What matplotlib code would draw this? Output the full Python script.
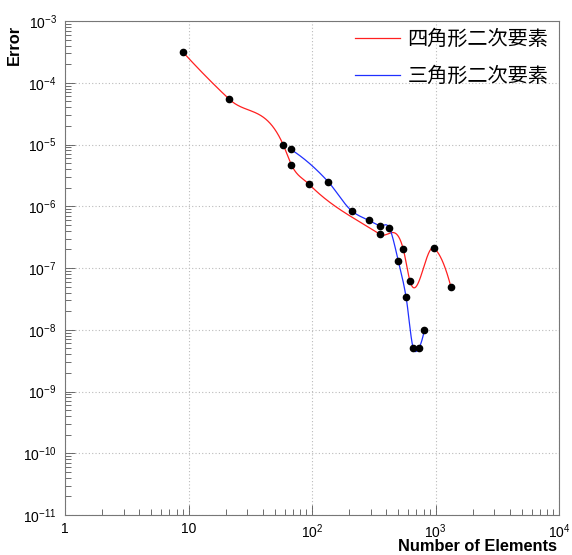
import matplotlib
matplotlib.use("Agg")
import matplotlib.pyplot as plt
import numpy as np
from matplotlib.ticker import LogLocator, FixedLocator, NullFormatter

# data
quad_n = [9, 21.3, 58.6, 68, 95, 355, 549, 622, 972, 1336]
quad_err = [3.15e-4, 5.45e-5, 9.8e-6, 4.7e-6, 2.26e-6, 3.5e-7, 2.0e-7, 6.1e-8, 2.09e-7, 4.86e-8]
tri_n = [67.2, 135, 209, 288, 355, 423, 500, 577, 661, 735, 812]
tri_err = [8.35e-6, 2.5e-6, 8.47e-7, 5.9e-7, 4.84e-7, 4.45e-7, 1.3e-7, 3.43e-8, 5.0e-9, 5.1e-9, 9.8e-9]
labels = ["四角形二次要素", "三角形二次要素"]

xdec = ["1", "10", "$10^{2}$", "$10^{3}$", "$10^{4}$"]
ydec = ["$10^{%d}$" % k for k in range(-11, -2)]

# pixels per decade, so the smoothing is done in screen-like space
SX, SY = 123.5, 61.75


def smooth(x, y, n=3000):
    # cubic Hermite y(x) with 3-point parabola (Bessel) slopes, in log space
    px = np.log10(x) * SX
    py = np.log10(y) * SY
    h = np.diff(px)
    d = np.diff(py) / h
    m = np.zeros(len(px))
    m[1:-1] = (h[1:] * d[:-1] + h[:-1] * d[1:]) / (h[:-1] + h[1:])
    m[0] = ((2 * h[0] + h[1]) * d[0] - h[0] * d[1]) / (h[0] + h[1])
    m[-1] = ((2 * h[-1] + h[-2]) * d[-1] - h[-1] * d[-2]) / (h[-1] + h[-2])
    xx = np.linspace(px[0], px[-1], n)
    i = np.clip(np.searchsorted(px, xx) - 1, 0, len(px) - 2)
    s = (xx - px[i]) / h[i]
    yy = ((2 * s ** 3 - 3 * s ** 2 + 1) * py[i] + (s ** 3 - 2 * s ** 2 + s) * h[i] * m[i]
          + (-2 * s ** 3 + 3 * s ** 2) * py[i + 1] + (s ** 3 - s ** 2) * h[i] * m[i + 1])
    return 10 ** (xx / SX), 10 ** (yy / SY)


plt.rcParams['font.family'] = ['Liberation Sans', 'DejaVu Sans']
plt.rcParams['mathtext.default'] = 'regular'

fig = plt.figure(figsize=(5.72, 5.55), dpi=100)
ax = fig.add_axes([65 / 572, 40 / 555, (559 - 65) / 572, (515 - 21) / 555])
ax.set_xscale('log')
ax.set_yscale('log')
ax.set_xlim(1, 1e4)
ax.set_ylim(1e-11, 1e-3)

sx, sy = smooth(quad_n, quad_err)
ax.plot(sx, sy, color='#ff2020', lw=0.9, label=labels[0])
sx, sy = smooth(tri_n, tri_err)
ax.plot(sx, sy, color='#2030ff', lw=0.9, label=labels[1])
ax.plot(quad_n, quad_err, 'o', color='black', ms=4.5, zorder=5)
ax.plot(tri_n, tri_err, 'o', color='black', ms=4.5, zorder=5)

ax.xaxis.set_major_locator(FixedLocator([1, 10, 100, 1000, 10000]))
ax.set_xticklabels(xdec)
ax.yaxis.set_major_locator(FixedLocator([10.0 ** k for k in range(-11, -2)]))
ax.set_yticklabels(ydec)
ax.xaxis.set_minor_locator(LogLocator(base=10, subs=np.arange(2, 10), numticks=20))
ax.yaxis.set_minor_locator(LogLocator(base=10, subs=np.arange(2, 10), numticks=20))
ax.xaxis.set_minor_formatter(NullFormatter())
ax.yaxis.set_minor_formatter(NullFormatter())
ax.tick_params(which='both', direction='in', color='#555555', labelsize=10)
ax.tick_params(which='major', length=7, width=0.6)
ax.tick_params(which='minor', length=4, width=0.6)
ax.tick_params(axis='x', pad=5)
ax.tick_params(axis='y', pad=6)
ax.grid(True, which='major', linestyle=(0, (1, 2)), color='#bbbbbb', lw=0.8)
for s in ax.spines.values():
    s.set_color('#777777')
    s.set_linewidth(0.8)

fig.text(557 / 572, 1 / 555, "Number of Elements", ha='right', va='bottom',
         fontsize=11.8, fontweight='bold')
fig.text(7 / 572, (555 - 25) / 555, "Error", ha='left', va='top', rotation=90,
         fontsize=11.8, fontweight='bold')

leg = ax.legend(loc='upper right', frameon=False,
                prop={'family': ['Noto Sans CJK JP', 'DejaVu Sans'], 'size': 14.5},
                handlelength=2.2, handletextpad=0.4, labelspacing=0.8,
                borderaxespad=0.0, bbox_to_anchor=(0.995, 1.0))

fig.savefig("out.png", dpi=100)
